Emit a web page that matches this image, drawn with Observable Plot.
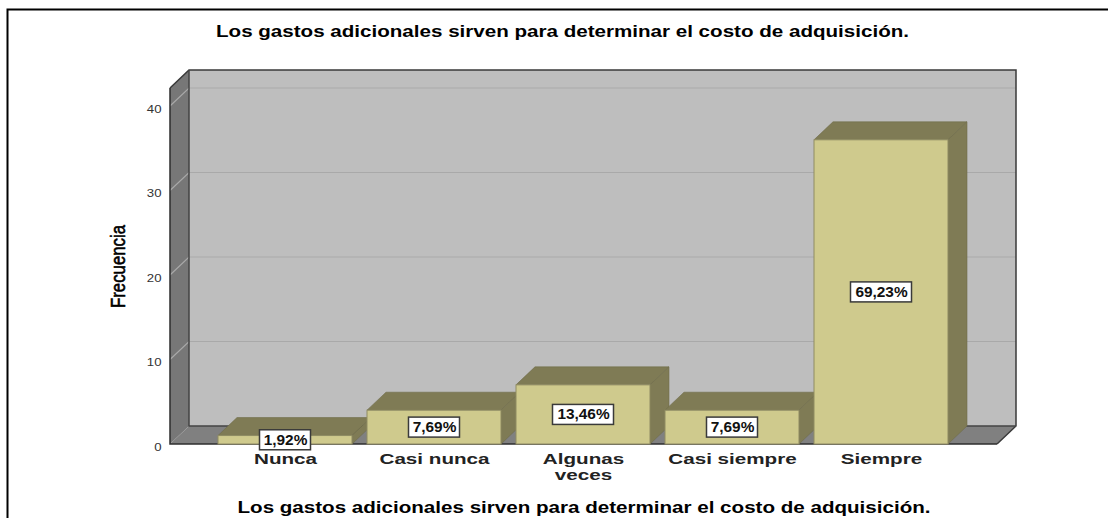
<!DOCTYPE html>
<html><head><meta charset="utf-8">
<script src="https://cdn.jsdelivr.net/npm/d3@7"></script>
<script src="https://cdn.jsdelivr.net/npm/@observablehq/plot@0.6"></script>
<style>
html,body{margin:0;padding:0;background:#fff;overflow:hidden}
svg{display:block;font-family:"Liberation Sans",Arial,sans-serif}
</style></head><body><div id="chart"></div>
<script>
const categorias = ["Nunca","Casi nunca","Algunas veces","Casi siempre","Siempre"];
const frecuencias = [1,4,7,4,36];
const porcentajes = ["1,92%","7,69%","13,46%","7,69%","69,23%"];
const ticksY = [0,10,20,30,40];
const titulo = "Los gastos adicionales sirven para determinar el costo de adquisición.";
const ejeY = "Frecuencia";

const filas = categorias.map((c,i)=>({c,v:frecuencias[i],p:porcentajes[i]}));
const DX = 19, DY = -18;
const svgEl = (name,attrs,parent)=>{const e=document.createElementNS("http://www.w3.org/2000/svg",name);
  for(const k in attrs)e.setAttribute(k,attrs[k]); if(parent)parent.appendChild(e); return e;};

function marco(index,scales,values,dim){
  const g=svgEl("g",{"aria-label":"marco"});
  svgEl("path",{d:`M${dim.width} 9.5H7.5V${dim.height}`,fill:"none",stroke:"#000","stroke-width":2},g);
  return g;
}
function paredes(index,scales,values,dim){
  const g=svgEl("g",{"aria-label":"paredes"});
  const l=dim.marginLeft, r=dim.width-dim.marginRight, b=dim.height-dim.marginBottom, t=dim.marginTop;
  svgEl("path",{d:`M${l+DX} ${t+DY}H${r+DX}V${b+DY}H${l+DX}Z`,fill:"#bebebe"},g);
  svgEl("path",{d:`M${l} ${b}L${l+DX} ${b+DY}V${t+DY}L${l} ${t}Z`,fill:"#777777"},g);
  svgEl("path",{d:`M${l} ${b}H${r}L${r+DX} ${b+DY}H${l+DX}Z`,fill:"#808080"},g);
  for(const v of ticksY.slice(1)){
    const y=scales.y(v);
    svgEl("path",{d:`M${l} ${y}L${l+DX} ${y+DY}H${r+DX}`,fill:"none",stroke:"#a9a9a9","stroke-width":1.2},g);
  }
  svgEl("path",{d:`M${l} ${t}V${b}H${r}`,fill:"none",stroke:"#2e2e2e","stroke-width":1.5},g);
  svgEl("path",{d:`M${l} ${t}L${l+DX} ${t+DY}H${r+DX}V${b+DY}L${r} ${b}`,fill:"none",stroke:"#3a3a3a","stroke-width":1.5},g);
  svgEl("path",{d:`M${l+DX} ${t+DY}V${b+DY}H${r+DX}`,fill:"none",stroke:"#444","stroke-width":1.5},g);
  return g;
}
function caras(index,scales,values,dim){
  const g=svgEl("g",{"aria-label":"caras 3D"});
  const b=scales.y(0), w=scales.x.bandwidth();
  for(const f of filas){
    const x0=scales.x(f.c), x1=x0+w, y=scales.y(f.v);
    svgEl("path",{d:`M${x0} ${y}L${x0+DX} ${y+DY}H${x1+DX}L${x1} ${y}Z`,fill:"#7f7b55",stroke:"#6f6b49","stroke-width":.6},g);
    svgEl("path",{d:`M${x1} ${y}L${x1+DX} ${y+DY}V${b+DY}L${x1} ${b}Z`,fill:"#7f7b55",stroke:"#6f6b49","stroke-width":.6},g);
  }
  return g;
}
function cajas(index,scales){
  const g=svgEl("g",{"aria-label":"cajas"});
  const w=scales.x.bandwidth();
  for(const f of filas){
    const cx=scales.x(f.c)+w/2, cy=scales.y(f.v/2), bw=f.p.length*10+1, bh=20;
    svgEl("rect",{x:cx-bw/2,y:cy-bh/2,width:bw,height:bh,fill:"#fff",stroke:"#3a3a3a","stroke-width":1.5},g);
  }
  return g;
}

const plot = Plot.plot({
  width:1108,height:518,
  marginLeft:170,marginRight:111,marginTop:88,marginBottom:74,
  x:{type:"band",domain:categorias,paddingInner:0.1,paddingOuter:0.325,label:null},
  y:{domain:[0,42.13],label:null},
  style:{background:"#fff",fontFamily:"Liberation Sans, Arial, sans-serif",overflow:"visible"},
  marks:[
    marco,
    paredes,
    Plot.axisY({ticks:ticksY,tickSize:0,tickPadding:9,dy:2.5,fontSize:11,fill:"#333",label:null,tickFormat:d=>d}),
    caras,
    Plot.barY(filas,{x:"c",y:"v",fill:"#cfca8d",stroke:"#8f8b63",strokeWidth:1}),
    cajas,
    Plot.text(filas,{x:"c",y:d=>d.v/2,text:"p",fontSize:14,fontWeight:"bold",fill:"#111"}),
    Plot.axisX({tickSize:0,tickPadding:8,fontSize:15.5,fontWeight:"bold",fill:"#222",lineHeight:1.02,label:null,
      tickFormat:d=>d==="Algunas veces"?"Algunas\nveces":d}),
    Plot.text([titulo],{frameAnchor:"top",dx:-21.5,dy:-57,fontSize:16,fontWeight:"bold",fill:"#000",lineAnchor:"middle"}),
    Plot.text([titulo],{frameAnchor:"bottom",dx:0,dy:63,fontSize:16,fontWeight:"bold",fill:"#000",lineAnchor:"middle"}),
    Plot.text([ejeY],{frameAnchor:"left",dx:-52,rotate:-90,textAnchor:"middle",fontSize:20,fontFamily:"Liberation Sans Narrow, Liberation Sans",fill:"#000",stroke:"#000",strokeWidth:.6})
  ]
});
document.getElementById("chart").appendChild(plot);
// Estiramiento horizontal del texto, como en el original
function estirar(e,k){
  e.setAttribute("textLength",e.getComputedTextLength()*k);
  e.setAttribute("lengthAdjust","spacingAndGlyphs");
}
plot.querySelectorAll('g[aria-label="x-axis tick label"] text').forEach(t=>{
  const partes=t.querySelectorAll("tspan");
  (partes.length?[...partes]:[t]).forEach(e=>estirar(e,1.33));
});
plot.querySelectorAll('g[aria-label="y-axis tick label"] text').forEach(t=>estirar(t,1.2));
plot.querySelectorAll("text").forEach(t=>{
  const s=t.textContent;
  if(s===titulo) estirar(t,693/t.getComputedTextLength());
  else if(porcentajes.includes(s)) estirar(t,1.1);
  else if(s===ejeY) estirar(t,83/t.getComputedTextLength());
});
</script></body></html>
